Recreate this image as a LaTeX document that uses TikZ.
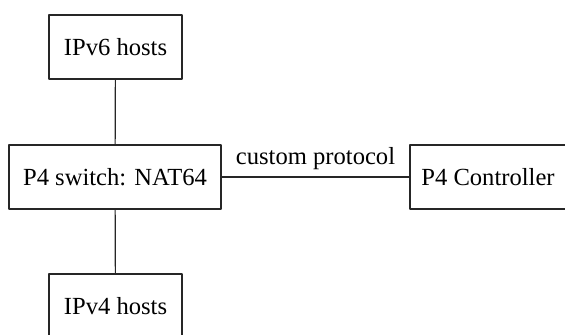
\documentclass[tikz,border=0pt]{standalone}
\usepackage{fontspec}
\setmainfont{Liberation Serif}
\tikzset{
  box/.style={draw, minimum height=32pt, inner sep=2pt, font=\fontsize{12.3}{14}\selectfont},
}
\begin{document}
\begin{tikzpicture}[x=0.5pt, y=-0.5pt, line join=round, line width=0.6pt, draw=black!85]
	\useasboundingbox (0,0) rectangle (565,334);
	\path
	(115.5,47) node[box, minimum width=66.5pt] (v6) {IPv6 hosts}
	(115,177) node[box, minimum width=106pt] (sw) {P4 switch: NAT64}
	(115.5,306) node[box, minimum width=66.5pt] (v4) {IPv4 hosts}
	(488,177) node[box, minimum width=78pt] (ctl) {P4 Controller}
	;
	\draw (v6)--(sw)--(v4);
	\draw (sw)--(ctl) node[midway, above, font=\fontsize{12.3}{14}\selectfont] (lbl) {custom protocol};
\end{tikzpicture}
\end{document}
